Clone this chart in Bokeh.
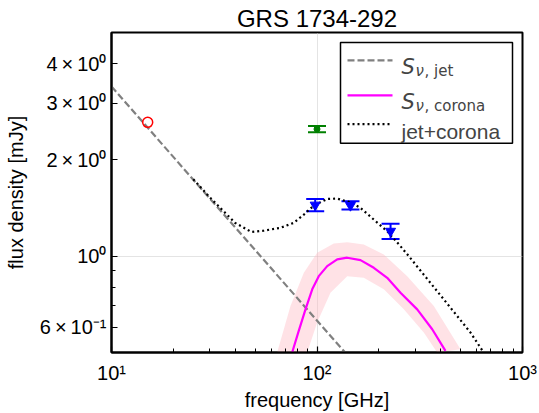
import numpy as np
from bokeh.plotting import figure
from bokeh.models import FixedTicker, Label, BoxAnnotation, Whisker, TeeHead, ColumnDataSource
from bokeh.embed import file_html
from bokeh.resources import INLINE

# ---------------- data ----------------
title_text = "GRS 1734-292"
x_label = "frequency [GHz]"
y_label = "flux density [mJy]"

x_ticks = [10, 100, 1000]
x_tick_labels = ["10¹", "10²", "10³"]
x_minor_ticks = [20, 30, 40, 50, 60, 70, 80, 90, 200, 300, 400, 500, 600, 700, 800, 900]
y_ticks = [0.6, 1.0, 2.0, 3.0, 4.0]
y_tick_labels = ["6\u2009×\u200910⁻¹", "10⁰", "2\u2009×\u200910⁰", "3\u2009×\u200910⁰", "4\u2009×\u200910⁰"]
y_minor_ticks = [0.7, 0.8, 0.9]

legend_labels = ["jet", "corona", "jet+corona"]

jet_freq = [10, 137]
jet_flux = [3.39, 0.50]

corona_freq = [75.7, 81.5, 87.9, 94.8, 102.0, 112.1, 125.4, 140.3, 162.8, 189.0, 219.6, 254.9, 307.3, 363.6, 421.9]
corona_flux = [0.500, 0.584, 0.682, 0.788, 0.866, 0.931, 0.977, 0.989, 0.972, 0.920, 0.856, 0.769, 0.682, 0.591, 0.506]

band_hi_freq = [64.0, 74.3, 86.3, 100.2, 120.7, 140.3, 168.9, 211.4, 274.8, 370.2, 499.3]
band_hi_flux = [0.500, 0.699, 0.888, 1.025, 1.095, 1.106, 1.087, 1.012, 0.866, 0.699, 0.512]
band_lo_freq = [89.6, 100.2, 116.3, 140.3, 168.9, 211.4, 264.5, 330.9, 384.5]
band_lo_flux = [0.500, 0.620, 0.769, 0.866, 0.856, 0.788, 0.682, 0.577, 0.500]

total_freq = [25, 30, 40, 48, 55.1, 66.4, 77.1, 86.3, 96.5, 112.1, 125.4, 145.5, 162.8, 189.0, 219.6, 254.9, 279.7, 400, 558.5, 646]
total_flux = [1.74, 1.53, 1.27, 1.19, 1.202, 1.226, 1.271, 1.349, 1.439, 1.509, 1.513, 1.473, 1.415, 1.301, 1.196, 1.074, 1.0, 0.753, 0.577, 0.501]

red_freq = [15.0]
red_flux = [2.62]

green_freq = [100.0]
green_flux = [2.495]
green_err = [0.055]

blue_freq = [98.0, 145.5, 228.0]
blue_flux = [1.445, 1.441, 1.197]
blue_err = [0.064, 0.043, 0.065]

# ---------------- helpers (page pixel -> data, for the hand-built legend only) ----------------
FR_L, FR_R, FR_T, FR_B = 111.0, 522.0, 32.0, 353.0
XMIN, XMAX, YMIN, YMAX = 10.0, 1000.0, 0.5, 5.0


def px2x(px):
    return 10 ** (np.log10(XMIN) + (px - FR_L) / (FR_R - FR_L) * (np.log10(XMAX) - np.log10(XMIN)))


def py2y(py):
    return 10 ** (np.log10(YMIN) + (FR_B - py) / (FR_B - FR_T) * (np.log10(YMAX) - np.log10(YMIN)))


FONT = "Liberation Sans"
MATH = "DejaVu Sans"

p = figure(width=539, height=413, x_axis_type="log", y_axis_type="log",
           x_range=(XMIN, XMAX), y_range=(YMIN, YMAX),
           output_backend="svg", toolbar_location=None,
           title=title_text,
           min_border_left=111, min_border_right=17, min_border_top=32, min_border_bottom=60)
p.background_fill_color = "white"
p.border_fill_color = "white"
p.outline_line_color = "black"
p.outline_line_width = 2

p.title.align = "center"
p.title.text_font = FONT
p.title.text_font_size = "24px"
p.title.text_font_style = "normal"
p.title.text_color = "black"
p.title.standoff = 2

# axes
for ax, ticks, minor, labels in ((p.xaxis[0], x_ticks, x_minor_ticks, x_tick_labels),
                                 (p.yaxis[0], y_ticks, y_minor_ticks, y_tick_labels)):
    ax.ticker = FixedTicker(ticks=ticks, minor_ticks=minor)
    ax.major_label_overrides = {t: l for t, l in zip(ticks, labels)}
    ax.axis_line_color = "black"
    ax.axis_line_width = 2
    ax.major_tick_in = 6
    ax.major_tick_out = 0
    ax.minor_tick_in = 4
    ax.minor_tick_out = 0
    ax.major_tick_line_color = "black"
    ax.major_tick_line_width = 1.2
    ax.minor_tick_line_color = "black"
    ax.minor_tick_line_width = 1.0
    ax.major_label_text_font = FONT
    ax.major_label_text_font_size = "20px"
    ax.major_label_text_color = "black"
    ax.axis_label_text_font = FONT
    ax.axis_label_text_font_size = "20px"
    ax.axis_label_text_font_style = "normal"
    ax.axis_label_text_color = "black"

p.xaxis.axis_label = x_label
p.yaxis.axis_label = y_label
p.xaxis.major_label_standoff = 9
p.yaxis.major_label_standoff = 5
p.xaxis.axis_label_standoff = 2
p.yaxis.axis_label_standoff = 10

p.xgrid.ticker = FixedTicker(ticks=[100])
p.ygrid.ticker = FixedTicker(ticks=[1.0])
for g in (p.xgrid, p.ygrid):
    g.grid_line_color = "#c8c8c8"
    g.grid_line_dash = "1 1"
    g.grid_line_width = 1

# corona uncertainty band
band_x = band_hi_freq + band_lo_freq[::-1]
band_y = band_hi_flux + band_lo_flux[::-1]
p.patch(band_x, band_y, fill_color="#ffb6c1", fill_alpha=0.4, line_color=None)

# curves
p.line(jet_freq, jet_flux, line_color="#808080", line_width=2.2, line_dash="7 3")
p.line(corona_freq, corona_flux, line_color="#ff00ff", line_width=2.2)
p.line(total_freq, total_flux, line_color="black", line_width=2.2, line_dash="2 3")

# data points
p.scatter(red_freq, red_flux, marker="circle", size=10, fill_color=None, line_color="red", line_width=1.5)

gsrc = ColumnDataSource(dict(x=green_freq, y=green_flux,
                             lo=[v - e for v, e in zip(green_flux, green_err)],
                             hi=[v + e for v, e in zip(green_flux, green_err)]))
p.add_layout(Whisker(source=gsrc, base="x", upper="hi", lower="lo", dimension="height",
                     line_color="green", line_width=2,
                     upper_head=TeeHead(size=18, line_color="green", line_width=2),
                     lower_head=TeeHead(size=18, line_color="green", line_width=2)))
p.scatter("x", "y", source=gsrc, marker="circle", size=6, fill_color="green", line_color="green")

bsrc = ColumnDataSource(dict(x=blue_freq, y=blue_flux,
                             lo=[v - e for v, e in zip(blue_flux, blue_err)],
                             hi=[v + e for v, e in zip(blue_flux, blue_err)]))
p.add_layout(Whisker(source=bsrc, base="x", upper="hi", lower="lo", dimension="height",
                     line_color="blue", line_width=2,
                     upper_head=TeeHead(size=18, line_color="blue", line_width=2),
                     lower_head=TeeHead(size=18, line_color="blue", line_width=2)))
p.scatter("x", "y", source=bsrc, marker="inverted_triangle", size=10, fill_color="blue", line_color="blue")

# legend (hand-built so the subscripts can be typeset)
p.add_layout(BoxAnnotation(left=px2x(340), right=px2x(512), top=py2y(42), bottom=py2y(143),
                           fill_color="white", fill_alpha=1.0, line_color="black", line_width=1.5,
                           line_alpha=1.0))
entry_y = [60, 95, 124]
styles = [dict(line_color="#808080", line_dash="7 3"),
          dict(line_color="#ff00ff"),
          dict(line_color="black", line_dash="2 3")]
for yy, st in zip(entry_y, styles):
    p.line([px2x(347), px2x(392)], [py2y(yy), py2y(yy)], line_width=2.2, level="overlay", **st)

for yy, sub in zip(entry_y[:2], legend_labels[:2]):
    p.add_layout(Label(x=px2x(401), y=py2y(yy + 7), text="S", text_font=MATH, text_font_style="italic",
                       text_font_size="21px", text_baseline="alphabetic", level="overlay"))
    p.add_layout(Label(x=px2x(415), y=py2y(yy + 11), text="ν", text_font=MATH, text_font_style="italic",
                       text_font_size="15px", text_baseline="alphabetic", level="overlay"))
    p.add_layout(Label(x=px2x(424), y=py2y(yy + 11), text=", " + sub, text_font=MATH,
                       text_font_size="15px", text_baseline="alphabetic", level="overlay"))
p.add_layout(Label(x=px2x(401), y=py2y(entry_y[2] + 7), text=legend_labels[2], text_font=FONT,
                   text_font_size="21px", text_baseline="alphabetic", level="overlay"))

open("out.html", "w").write(file_html(p, INLINE))
